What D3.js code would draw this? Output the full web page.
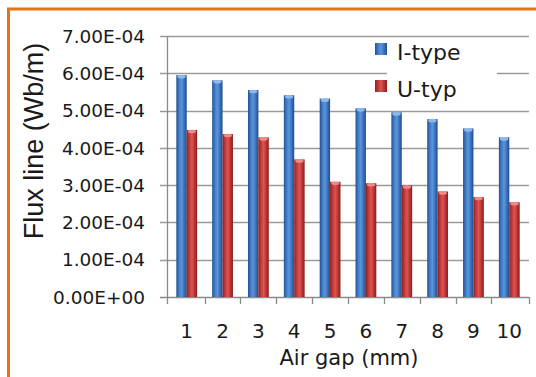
<!DOCTYPE html>
<meta charset="utf-8">
<script src="https://d3js.org/d3.v7.min.js"></script>
<style>
  body { margin: 0; background: #fff; }
  text { fill: #1a1a1a; }
</style>
<svg id="chart" width="536" height="377"></svg>
<script>

// data
var gaps = ["1", "2", "3", "4", "5", "6", "7", "8", "9", "10"];
var seriesNames = ["I-type", "U-typ"];
var iType = [5.95e-4, 5.81e-4, 5.55e-4, 5.41e-4, 5.32e-4, 5.06e-4, 4.95e-4, 4.77e-4, 4.52e-4, 4.28e-4];
var uType = [4.48e-4, 4.37e-4, 4.28e-4, 3.69e-4, 3.09e-4, 3.05e-4, 2.99e-4, 2.83e-4, 2.68e-4, 2.54e-4];
var yTicks = [0, 1e-4, 2e-4, 3e-4, 4e-4, 5e-4, 6e-4, 7e-4];

var svg = d3.select("#chart");

var plotLeft = 167, plotRight = 529, plotTop = 36, plotBottom = 297;

var x = d3.scaleBand()
    .domain(gaps)
    .range([plotLeft, plotRight])
    .paddingInner(0.42)
    .paddingOuter(0.26);

var xs = d3.scaleBand()
    .domain(seriesNames)
    .range([0, x.bandwidth()]);

var y = d3.scaleLinear()
    .domain([0, 7e-4])
    .range([plotBottom, plotTop]);

function fmt(v) {
  var s = v.toExponential(2).toUpperCase();
  var m = s.match(/^(.*)E([+-])(\d+)$/);
  return m[1] + "E" + m[2] + (m[3].length < 2 ? "0" + m[3] : m[3]);
}

// gradients for the bars
var defs = svg.append("defs");
var grads = [
  {id: "gBlue", c: ["#23508c", "#3f7cc8", "#5b95dc", "#3a72bb", "#1f4c86"]},
  {id: "gRed", c: ["#8e1f1f", "#c23a38", "#dc5553", "#b93533", "#8a1d1d"]}
];
grads.forEach(function(g) {
  var lg = defs.append("linearGradient").attr("id", g.id)
      .attr("x1", "0").attr("x2", "1").attr("y1", "0").attr("y2", "0");
  g.c.forEach(function(c, i) {
    lg.append("stop").attr("offset", (i / (g.c.length - 1) * 100) + "%").attr("stop-color", c);
  });
});

// orange frame (cropped)
svg.append("path")
    .attr("d", "M8.5,377 L8.5,9 L536,9")
    .attr("fill", "none")
    .attr("stroke", "#e8730f")
    .attr("stroke-width", 3);

// gridlines
svg.append("g")
  .selectAll("line")
  .data(yTicks)
  .enter().append("line")
    .attr("x1", plotLeft - 7)
    .attr("x2", plotRight)
    .attr("y1", function(d){ return Math.round(y(d)) + 0.5; })
    .attr("y2", function(d){ return Math.round(y(d)) + 0.5; })
    .attr("stroke", function(d){ return d === 0 ? "#8a8a8a" : "#9a9a9a"; })
    .attr("stroke-width", 1.3);

// y axis line
svg.append("line")
    .attr("x1", plotLeft + 0.5).attr("x2", plotLeft + 0.5)
    .attr("y1", plotTop).attr("y2", plotBottom + 7)
    .attr("stroke", "#8a8a8a").attr("stroke-width", 1.3);

// x ticks at category boundaries
var bounds = gaps.map(function(g){ return x(g) - x.step() * x.paddingInner() / 2; });
bounds.push(plotRight);
svg.append("g")
  .selectAll("line")
  .data(bounds.slice(1))
  .enter().append("line")
    .attr("x1", function(d){ return Math.round(d) + 0.5; })
    .attr("x2", function(d){ return Math.round(d) + 0.5; })
    .attr("y1", plotBottom)
    .attr("y2", plotBottom + 7)
    .attr("stroke", "#8a8a8a").attr("stroke-width", 1.3);

// bars
var rows = gaps.map(function(g, i){ return {gap: g, vals: [iType[i], uType[i]]}; });
var groups = svg.append("g")
  .selectAll("g")
  .data(rows)
  .enter().append("g")
    .attr("transform", function(d){ return "translate(" + x(d.gap) + ",0)"; });

function pairs(d) {
  return d.vals.map(function(v, j){ return {name: seriesNames[j], v: v, j: j}; });
}

groups.selectAll("rect")
  .data(pairs)
  .enter().append("rect")
    .attr("x", function(d){ return xs(d.name); })
    .attr("width", xs.bandwidth())
    .attr("y", function(d){ return y(d.v); })
    .attr("height", function(d){ return plotBottom - y(d.v); })
    .attr("fill", function(d){ return d.j === 0 ? "url(#gBlue)" : "url(#gRed)"; });

// light cap on top of each bar
groups.selectAll("ellipse")
  .data(pairs)
  .enter().append("ellipse")
    .attr("cx", function(d){ return xs(d.name) + xs.bandwidth() / 2; })
    .attr("cy", function(d){ return y(d.v) + 1.5; })
    .attr("rx", xs.bandwidth() / 2 - 1)
    .attr("ry", 1.8)
    .attr("fill", function(d){ return d.j === 0 ? "#8fb8ea" : "#ec8a88"; });

// y tick labels
svg.append("g")
  .selectAll("text")
  .data(yTicks)
  .enter().append("text")
    .attr("x", 145)
    .attr("y", function(d){ return y(d); })
    .attr("dy", "0.36em")
    .attr("text-anchor", "end")
    .style("font-family", "DejaVu Sans")
    .style("font-size", "18.5px")
    .text(fmt);

// x tick labels
svg.append("g")
  .selectAll("text")
  .data(gaps)
  .enter().append("text")
    .attr("x", function(d){ return x(d) + x.bandwidth() / 2; })
    .attr("y", 338)
    .attr("text-anchor", "middle")
    .style("font-family", "DejaVu Sans")
    .style("font-size", "20px")
    .text(function(d){ return d; });

// axis titles
svg.append("text")
    .attr("x", (plotLeft + plotRight) / 2 + 1)
    .attr("y", 365)
    .attr("text-anchor", "middle")
    .style("font-family", "DejaVu Sans")
    .style("font-size", "21px")
    .text("Air gap (mm)");

svg.append("text")
    .attr("transform", "translate(43,141) rotate(-90)")
    .attr("text-anchor", "middle")
    .style("font-family", "Liberation Sans")
    .style("font-size", "27px")
    .text("Flux line (Wb/m)");

// legend
var legend = svg.append("g");
legend.append("rect")
    .attr("x", 387).attr("y", 40).attr("width", 110).attr("height", 60)
    .attr("fill", "#fff");
var legY = [43, 80];
seriesNames.forEach(function(n, i) {
  legend.append("rect")
      .attr("x", 375).attr("y", legY[i])
      .attr("width", 12).attr("height", 12)
      .attr("fill", i === 0 ? "url(#gBlue)" : "url(#gRed)");
  legend.append("text")
      .attr("x", 397).attr("y", legY[i] + 17)
      .style("font-family", "DejaVu Sans")
      .style("font-size", "22px")
      .text(n);
});

</script>
